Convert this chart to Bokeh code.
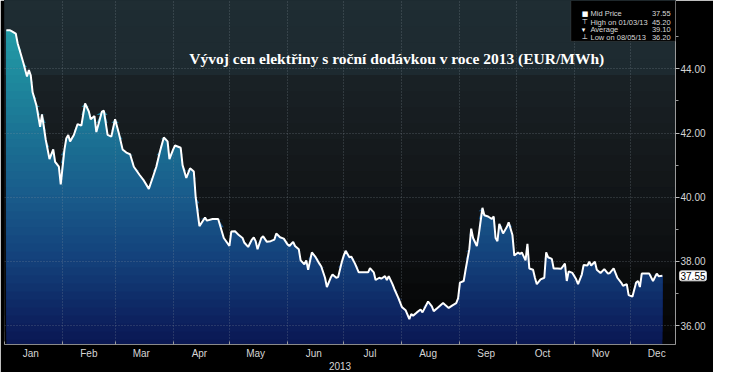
import numpy as np
from bokeh.plotting import figure
from bokeh.models import FixedTicker, PrintfTickFormatter, Label, BoxAnnotation, LinearAxis
from bokeh.embed import file_html
from bokeh.resources import INLINE

# ---------------- data ----------------
title_text = "Vývoj cen elektřiny s roční dodávkou v roce 2013 (EUR/MWh)"
year_label = "2013"
months = ["Jan", "Feb", "Mar", "Apr", "May", "Jun", "Jul", "Aug", "Sep", "Oct", "Nov", "Dec"]
month_start_day = [0, 31, 59, 90, 120, 151, 181, 212, 243, 273, 304, 334]
y_major_ticks = [36, 38, 40, 42, 44]
y_minor_ticks = [37, 39, 41, 43, 45]

# day of year (0 = 1 Jan 2013)
days = [1, 3, 4, 6, 7, 9, 10, 12, 13, 14,
        15, 17, 19, 20, 22, 24, 26, 27, 29, 30,
        32, 33, 34, 35, 37, 39, 41, 43, 45, 46,
        48, 49, 52, 53, 55, 57, 59, 61, 63, 65,
        67, 69, 72, 74, 77, 79, 81, 83, 85, 87,
        88, 90, 91, 94, 95, 97, 99, 101, 102, 104,
        107, 108, 111, 114, 117, 120, 121, 123, 125, 127,
        128, 130, 132, 133, 134, 135, 137, 138, 140, 142,
        144, 145, 147, 149, 151, 152, 154, 155, 157, 158,
        160, 161, 162, 164, 166, 168, 169, 171, 172, 174,
        175, 177, 178, 180, 181, 182, 184, 185, 187, 189,
        191, 194, 195, 197, 198, 200, 201, 203, 204, 205,
        207, 208, 210, 212, 214, 216, 217, 218, 220, 222,
        223, 226, 228, 229, 231, 234, 235, 237, 239, 241,
        242, 243, 245, 246, 248, 249, 250, 252, 253, 255,
        256, 258, 260, 261, 262, 263, 264, 266, 268, 269,
        271, 272, 274, 275, 276, 278, 279, 280, 282, 283,
        284, 286, 288, 289, 290, 292, 293, 295, 297, 299,
        300, 301, 303, 305, 306, 308, 309, 311, 312, 313,
        315, 316, 318, 320, 322, 323, 325, 327, 329, 330,
        332, 333, 335, 337, 338, 339, 340, 342, 344, 346,
        348, 349, 351]

mid_price = [45.20, 45.20, 45.17, 45.10, 44.80, 44.40, 44.20, 43.76, 43.96, 43.80,
             43.27, 42.87, 42.19, 42.58, 41.79, 41.19, 41.49, 41.10, 40.95, 40.40,
             41.49, 41.84, 41.94, 41.74, 41.94, 42.28, 42.23, 42.92, 42.67, 42.43,
             42.53, 42.03, 42.67, 42.70, 41.94, 41.89, 42.43, 41.99, 41.49, 41.39,
             41.34, 40.95, 40.70, 40.55, 40.26, 40.60, 40.95, 41.44, 41.86, 41.74,
             41.19, 41.49, 41.61, 41.54, 41.00, 40.60, 40.90, 40.80, 40.00, 39.10,
             39.37, 39.27, 39.32, 39.32, 38.73, 38.48, 38.93, 38.94, 38.82, 38.73,
             38.58, 38.45, 38.68, 38.75, 38.63, 38.38, 38.73, 38.78, 38.61, 38.63,
             38.68, 38.87, 38.75, 38.71, 38.53, 38.48, 38.61, 38.48, 38.38, 38.03,
             37.91, 38.03, 37.74, 38.28, 38.13, 37.93, 37.84, 37.49, 37.20, 37.49,
             37.59, 37.49, 37.51, 37.99, 38.18, 38.33, 38.13, 38.15, 37.93, 37.66,
             37.66, 37.66, 37.79, 37.66, 37.42, 37.49, 37.46, 37.54, 37.42, 37.54,
             37.29, 37.14, 36.88, 36.58, 36.48, 36.20, 36.36, 36.31, 36.41, 36.50,
             36.41, 36.75, 36.60, 36.45, 36.55, 36.70, 36.65, 36.55, 36.63, 36.70,
             36.85, 37.34, 37.39, 37.74, 38.38, 39.02, 38.73, 38.48, 38.82, 39.67,
             39.44, 39.40, 39.32, 39.40, 38.73, 38.63, 39.17, 38.87, 39.07, 39.22,
             38.82, 38.18, 38.28, 38.23, 38.28, 38.03, 38.55, 37.78, 37.74, 37.49,
             37.29, 37.44, 37.49, 38.28, 38.13, 38.08, 37.78, 37.78, 37.77, 37.93,
             37.39, 37.69, 37.64, 37.44, 37.29, 37.59, 37.89, 37.87, 37.99, 37.87,
             37.99, 37.74, 37.64, 37.76, 37.62, 37.64, 37.78, 37.49, 37.34, 37.24,
             37.29, 36.95, 36.90, 37.34, 37.39, 37.20, 37.62, 37.62, 37.62, 37.39,
             37.62, 37.54, 37.55]

legend_labels = ["Mid Price", "High on 01/03/13", "Average", "Low on 08/05/13"]
legend_values = ["37.55", "45.20", "39.10", "36.20"]
last_price = 37.55

assert len(days) == len(mid_price)

# ---------------- layout helpers ----------------
X0, X1 = 0, 358
Y0, Y1 = 35.41, 46.13


def X(px):  # reference-pixel -> data x
    return (px - 4) / 1.916


def Y(py):  # reference-pixel -> data y
    return 44 - (py - 72) / 33.75


def hex2rgb(h):
    h = h.lstrip("#")
    return np.array([int(h[i:i + 2], 16) for i in (0, 2, 4)], dtype=float)


def interp_color(v, stops):
    vs = [s[0] for s in stops]
    cs = [hex2rgb(s[1]) for s in stops]
    v = min(max(v, vs[0]), vs[-1])
    for i in range(len(vs) - 1):
        if vs[i] <= v <= vs[i + 1]:
            t = (v - vs[i]) / (vs[i + 1] - vs[i])
            c = cs[i] * (1 - t) + cs[i + 1] * t
            return "#%02x%02x%02x" % tuple(int(round(x)) for x in c)
    return stops[-1][1]


fill_stops = [(35.4, "#0a1852"), (36.0, "#0c1f5c"), (38.0, "#13407a"),
              (40.0, "#195b8b"), (42.0, "#1b7394"), (44.0, "#1f8d9f"), (46.2, "#28a8ae")]
bg_stops = [(35.4, "#040404"), (37.0, "#08090a"), (38.0, "#0c0e10"), (41.0, "#14181b"),
            (44.0, "#1a2227"), (44.01, "#1d2a30"), (46.2, "#1f2d33")]

p = figure(width=713, height=372, x_range=(X0, X1), y_range=(Y0, Y1),
           y_axis_location="right", output_backend="svg", toolbar_location=None,
           min_border_left=4, min_border_right=38, min_border_top=0, min_border_bottom=25,
           background_fill_color="black", border_fill_color="black", outline_line_color=None)

# background stepped gradient
bg_edges = np.arange(Y0 - 0.1, Y1 + 0.1, 0.5)
for lo in bg_edges:
    p.quad(left=X0, right=X1, bottom=lo, top=Y1 + 1, fill_color=interp_color(lo + 0.25, bg_stops),
           line_color=None, level="image")

# area fill stepped gradient (each band paints from its floor up to the line)
price_arr = np.array(mid_price)
band_edges = np.arange(Y0 - 0.1, 45.6, 0.25)
for lo in band_edges:
    top = np.maximum(price_arr, lo)
    p.varea(x=days, y1=lo, y2=top, fill_color=interp_color(lo + 0.125, fill_stops), level="image")

p.line(days, mid_price, line_color="white", line_width=2)

# grids
p.xgrid.ticker = FixedTicker(ticks=month_start_day)
p.ygrid.ticker = FixedTicker(ticks=y_major_ticks)
for g in (p.xgrid, p.ygrid):
    g.grid_line_color = "#8a96a0"
    g.grid_line_alpha = 0.45
    g.grid_line_dash = "1 2"
    g.grid_line_width = 1

AX_FONT = "Liberation Sans"
LABEL_COLOR = "#d6d6d6"

# x axis
mid_days = [d + 14 for d in month_start_day]
xa = p.xaxis[0]
xa.ticker = FixedTicker(ticks=mid_days, minor_ticks=month_start_day)
xa.major_label_overrides = {d: m for d, m in zip(mid_days, months)}
xa.major_tick_line_color = None
xa.major_tick_out = 0
xa.major_tick_in = 0
xa.minor_tick_in = 3
xa.minor_tick_out = 0
xa.minor_tick_line_color = "#9a9a9a"
xa.axis_line_color = "#8a8a8a"
xa.major_label_text_color = LABEL_COLOR
xa.major_label_text_font = AX_FONT
xa.major_label_text_font_size = "10px"
xa.major_label_standoff = 3
xa.axis_label = year_label
xa.axis_label_text_font = AX_FONT
xa.axis_label_text_font_style = "normal"
xa.axis_label_text_font_size = "10px"
xa.axis_label_text_color = LABEL_COLOR
xa.axis_label_standoff = 0

# right side: [axis line + ticks] , [last-price tag] , [tick labels pulled back next to the line]
ya = p.yaxis[0]
ya.ticker = FixedTicker(ticks=y_major_ticks, minor_ticks=y_minor_ticks)
ya.major_label_overrides = {t: "" for t in y_major_ticks}
ya.major_label_standoff = 0
ya.axis_line_color = "#9a9a9a"
ya.major_tick_line_color = "#bbbbbb"
ya.minor_tick_line_color = "#9a9a9a"
ya.major_tick_in = 0
ya.major_tick_out = 4
ya.minor_tick_in = 0
ya.minor_tick_out = 3

tag = Label(x=X(694), y=last_price, text="%.2f" % last_price, text_baseline="middle",
            text_font=AX_FONT, text_font_size="10px", text_color="black",
            background_fill_color="white", border_line_color="#cccccc",
            padding=1, border_radius=2)
p.add_layout(tag, "right")

TAG_SLOT = 29
yb = LinearAxis(ticker=FixedTicker(ticks=y_major_ticks),
                formatter=PrintfTickFormatter(format="%.2f"),
                axis_line_color=None, major_tick_line_color=None, minor_tick_line_color=None,
                major_tick_in=0, major_tick_out=0, minor_tick_in=0, minor_tick_out=0,
                major_label_standoff=7 - 4 - TAG_SLOT,
                major_label_text_color=LABEL_COLOR, major_label_text_font=AX_FONT,
                major_label_text_font_size="10px")
p.add_layout(yb, "right")

# title inside plot
p.add_layout(Label(x=X(405), y=Y(61), text=title_text, text_align="center", text_baseline="middle",
                   text_font="Liberation Serif", text_font_style="bold", text_font_size="15.5px",
                   text_color="white"))

# legend box
p.add_layout(BoxAnnotation(left=X(583), right=X(690), top=Y(0), bottom=Y(43),
                           fill_color="black", fill_alpha=1.0, line_color="#5e5e5e", line_width=1))
row_y = [14, 23, 31, 39]
icons = ["■", "⊤", "▾", "⊥"]
for i, (lab, val) in enumerate(zip(legend_labels, legend_values)):
    p.add_layout(Label(x=X(594), y=Y(row_y[i]), text=icons[i], text_baseline="middle",
                       text_font="DejaVu Sans", text_font_size="7px", text_color="white"))
    p.add_layout(Label(x=X(603), y=Y(row_y[i]), text=lab, text_baseline="middle",
                       text_font=AX_FONT, text_font_size="7.5px", text_color="#d8d8d8"))
    p.add_layout(Label(x=X(685), y=Y(row_y[i]), text=val, text_baseline="middle", text_align="right",
                       text_font=AX_FONT, text_font_size="7.5px", text_color="#d8d8d8"))

open("out.html", "w").write(file_html(p, INLINE))
